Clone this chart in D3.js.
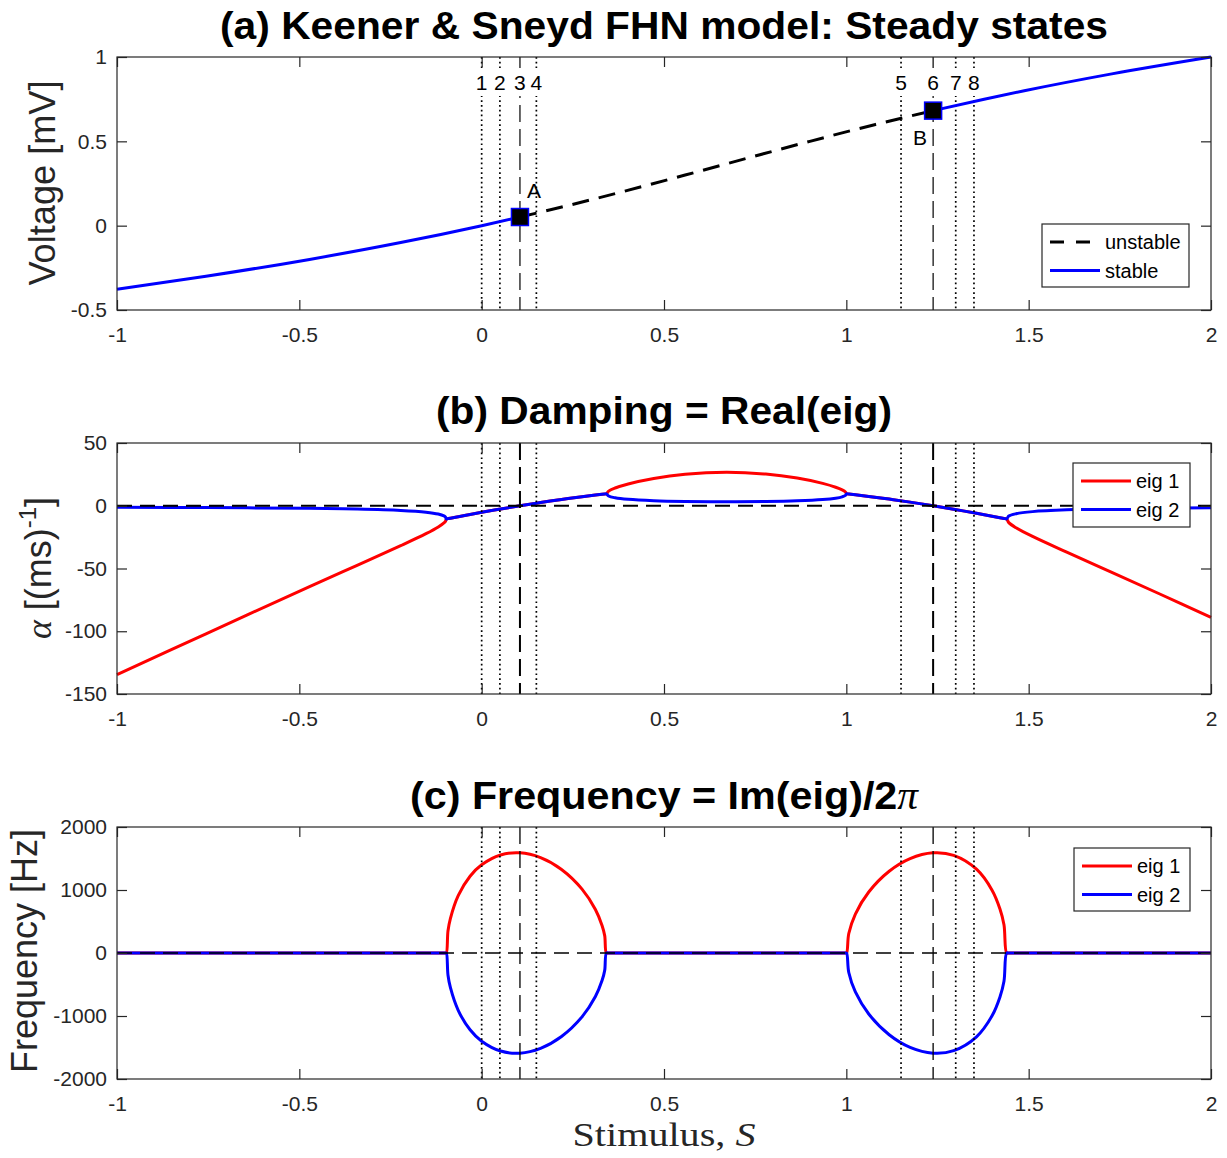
<!DOCTYPE html>
<html><head><meta charset="utf-8">
<script src="https://cdn.jsdelivr.net/npm/d3@7"></script>
<style>body{margin:0;background:#fff}svg{display:block}</style>
</head><body>
<svg id="chart" width="1227" height="1158"></svg>
<script>
// ---------- data ----------
const xTicks = [-1, -0.5, 0, 0.5, 1, 1.5, 2];
const xTickLabels = ["-1", "-0.5", "0", "0.5", "1", "1.5", "2"];
const voltTicks = [-0.5, 0, 0.5, 1];
const voltTickLabels = ["-0.5", "0", "0.5", "1"];
const dampTicks = [-150, -100, -50, 0, 50];
const dampTickLabels = ["-150", "-100", "-50", "0", "50"];
const freqTicks = [-2000, -1000, 0, 1000, 2000];
const freqTickLabels = ["-2000", "-1000", "0", "1000", "2000"];

// (a) steady states
const stableLowS = [-1, -0.756, -0.472, -0.222, 0, 0.105];
const stableLowV = [-0.3765, -0.3, -0.2, -0.1, 0, 0.0513];
const unstableS = [0.105, 0.200, 0.384, 0.558, 0.728, 0.900, 1.080, 1.238];
const unstableV = [0.0513, 0.1, 0.2, 0.3, 0.4, 0.5, 0.6, 0.682];
const stableHighS = [1.238, 1.378, 1.488, 1.728, 2.0];
const stableHighV = [0.682, 0.75, 0.8, 0.9, 1.0];
const hopfS = [0.105, 1.238];
const hopfV = [0.0513, 0.682];
const hopfNames = ["A", "B"];
const caseS = [0, 0.05, 0.105, 0.15, 1.15, 1.238, 1.30, 1.35];
const caseLabels = ["1", "2", "3", "4", "5", "6", "7", "8"];

// (b),(c) eigenvalues on a common stimulus grid
const eigS = [
  -1, -0.756, -0.472, -0.3431, -0.222, -0.1527, -0.1190, -0.1034, -0.0990, -0.0968,
  -0.0924, -0.0858, -0.0640, -0.0318, 0, 0.0518, 0.105, 0.1615, 0.2190, 0.2752, 0.3119, 0.3301, 0.3374, 0.3421,
  0.3482, 0.3661, 0.4018, 0.4719, 0.558, 0.6714, 0.7791, 0.8652, 0.9352, 0.9707, 0.9886, 0.9976, 1.0007,
  1.0067, 1.0248, 1.0615, 1.1175, 1.1749, 1.2378, 1.2944, 1.3569, 1.3996, 1.4213, 1.4323, 1.4396,
  1.4455, 1.4655, 1.5107, 1.6044, 1.728, 1.8596, 2
];
const eig1Re = [
  -134.61, -102.02, -64.44, -47.63, -31.81, -22.28, -16.92, -13.64, -12.23, -10.5,
  -10.26, -9.89, -8.69, -6.93, -5.25, -2.59, 0, 2.59, 5.04, 7.21, 8.51, 9.12, 9.35, 9.5,
  11.65, 14.14, 17.38, 21.76, 25.09, 26.65, 25.25, 22.04, 17.82, 14.77, 12.64, 10.99, 9.5,
  9.31, 8.72, 7.44, 5.29, 2.88, 0, -2.77, -5.99, -8.29, -9.49, -10.09, -10.5,
  -13.44, -17.57, -24.46, -37.01, -53.10, -70.32, -88.87
];
const eig2Re = [
  -1.25, -1.49, -2.06, -2.62, -3.69, -5.09, -6.59, -8.11, -9.03, -10.5,
  -10.26, -9.89, -8.69, -6.93, -5.25, -2.59, 0, 2.59, 5.04, 7.21, 8.51, 9.12, 9.35, 9.5,
  7.73, 6.33, 5.09, 3.99, 3.41, 3.18, 3.38, 3.94, 4.96, 6.05, 7.11, 8.21, 9.5,
  9.31, 8.72, 7.44, 5.29, 2.88, 0, -2.77, -5.99, -8.29, -9.49, -10.09, -10.5,
  -8.23, -6.36, -4.68, -3.24, -2.40, -1.93, -1.63
];
const eig1Freq = [
  0, 0, 0, 0, 0, 0, 0, 0, 0, 0,
  348.5, 547.3, 914.3, 1218.5, 1400.5, 1556.3, 1589.6, 1513.7, 1325.5, 1013.5, 690.4, 437.4, 275.9, 0,
  0, 0, 0, 0, 0, 0, 0, 0, 0, 0, 0, 0, 0,
  308.8, 618.2, 968.6, 1297.6, 1498.2, 1589.6, 1550.2, 1330.3, 997.9, 698.7, 449.0, 0,
  0, 0, 0, 0, 0, 0, 0
];
const eig2Freq = [
  0, 0, 0, 0, 0, 0, 0, 0, 0, 0,
  -348.5, -547.3, -914.3, -1218.5, -1400.5, -1556.3, -1589.6, -1513.7, -1325.5, -1013.5, -690.4, -437.4, -275.9, 0,
  0, 0, 0, 0, 0, 0, 0, 0, 0, 0, 0, 0, 0,
  -308.8, -618.2, -968.6, -1297.6, -1498.2, -1589.6, -1550.2, -1330.3, -997.9, -698.7, -449.0, 0,
  0, 0, 0, 0, 0, 0, 0
];
const steadyLegend = ["unstable", "stable"];
const eigLegend = ["eig 1", "eig 2"];

// ---------- drawing ----------
const svg = d3.select("#chart");
const AX = "#262626";
const FONT = "'Liberation Sans', Arial, Helvetica, sans-serif";
const TFONT = "'Liberation Sans Narrow', 'Liberation Sans', Arial, sans-serif";
const SERIF = "'Liberation Serif', 'DejaVu Serif', serif";
const BLUE = "#0000ff", RED = "#ff0000";
const x = d3.scaleLinear().domain([-1, 2]).range([117, 1211]);

function zip(a, b) { return a.map((v, i) => [v, b[i]]); }

function drawAxes(y, ticks, labels) {
  const [yb, yt] = y.range();
  const g = svg.append("g");
  const style = sel => {
    sel.select(".domain").remove();
    sel.selectAll(".tick line").attr("stroke", AX).attr("stroke-width", 1.2);
    sel.selectAll(".tick text").attr("fill", AX).style("font-family", FONT).style("font-size", "21px");
  };
  g.append("g").attr("transform", `translate(0,${yb})`)
    .call(d3.axisBottom(x).tickValues(xTicks).tickFormat((d, i) => xTickLabels[i]).tickSizeInner(-10).tickSizeOuter(0).tickPadding(17)).call(style);
  g.append("g").attr("transform", `translate(0,${yt})`)
    .call(d3.axisTop(x).tickValues(xTicks).tickFormat("").tickSizeInner(-10).tickSizeOuter(0)).call(style);
  g.append("g").attr("transform", `translate(${x.range()[0]},0)`)
    .call(d3.axisLeft(y).tickValues(ticks).tickFormat((d, i) => labels[i]).tickSizeInner(-10).tickSizeOuter(0).tickPadding(10)).call(style);
  g.append("g").attr("transform", `translate(${x.range()[1]},0)`)
    .call(d3.axisRight(y).tickValues(ticks).tickFormat("").tickSizeInner(-10).tickSizeOuter(0)).call(style);
  g.append("rect").attr("x", x.range()[0]).attr("y", yt)
    .attr("width", x.range()[1] - x.range()[0]).attr("height", yb - yt)
    .attr("fill", "none").attr("stroke", AX).attr("stroke-width", 1.2);
}

function caseLines(y, dashW) {
  const [yb, yt] = y.range();
  caseS.forEach(s => {
    const isHopf = hopfS.includes(s);
    svg.append("line").attr("x1", x(s)).attr("x2", x(s)).attr("y1", yt).attr("y2", yb)
      .attr("stroke", "#000")
      .attr("stroke-width", isHopf ? dashW : 1.7)
      .attr("stroke-dasharray", isHopf ? "17,7" : "1.7,3.1");
  });
}

function curve(y, xs, ys, color, width, dash, smooth) {
  const line = d3.line().x(d => x(d[0])).y(d => y(d[1]))
    .curve(smooth ? d3.curveCatmullRom.alpha(0.5) : d3.curveMonotoneX);
  const p = svg.append("path").datum(zip(xs, ys)).attr("d", line)
    .attr("fill", "none").attr("stroke", color).attr("stroke-width", width)
    .attr("stroke-linejoin", "round");
  if (dash) p.attr("stroke-dasharray", dash);
  return p;
}

function zeroLine(y, w) {
  svg.append("line").attr("x1", x(-1)).attr("x2", x(2)).attr("y1", y(0)).attr("y2", y(0))
    .attr("stroke", "#000").attr("stroke-width", w).attr("stroke-dasharray", "15,8");
}

function title(txt, yBase, len) {
  return svg.append("text").attr("x", 664).attr("y", yBase).attr("text-anchor", "middle")
    .style("font-family", TFONT).style("font-weight", "bold").style("font-size", "39px")
    .attr("fill", "#000").attr("textLength", len).attr("lengthAdjust", "spacingAndGlyphs").text(txt);
}

function legend(x0, y0, w, h, names, colors, dashes) {
  const g = svg.append("g");
  g.append("rect").attr("x", x0).attr("y", y0).attr("width", w).attr("height", h)
    .attr("fill", "#fff").attr("stroke", AX).attr("stroke-width", 1.2);
  names.forEach((n, i) => {
    const yy = y0 + 18 + i * 28.5;
    const l = g.append("line").attr("x1", x0 + 8).attr("x2", x0 + 58).attr("y1", yy).attr("y2", yy)
      .attr("stroke", colors[i]).attr("stroke-width", 3);
    if (dashes[i]) l.attr("stroke-dasharray", dashes[i]);
    g.append("text").attr("x", x0 + 63).attr("y", yy + 7).text(n)
      .style("font-family", FONT).style("font-size", "20px").attr("fill", "#000");
  });
}

// ---- Panel (a) ----
const ya = d3.scaleLinear().domain([-0.5, 1]).range([310, 57]);
title("(a) Keener & Sneyd FHN model: Steady states", 39, 888);
caseLines(ya, 1.2);
curve(ya, stableLowS, stableLowV, BLUE, 3);
curve(ya, unstableS, unstableV, "#000", 3, "17,10");
curve(ya, stableHighS, stableHighV, BLUE, 3);
hopfS.forEach((s, i) => {
  svg.append("rect").attr("x", x(s) - 8.5).attr("y", ya(hopfV[i]) - 8.5).attr("width", 17).attr("height", 17)
    .attr("fill", "#000").attr("stroke", BLUE).attr("stroke-width", 1.5);
});
const hopfLabelOffset = [[14, -19], [-13, 34]];
hopfS.forEach((s, i) => {
  svg.append("text").attr("x", x(s) + hopfLabelOffset[i][0]).attr("y", ya(hopfV[i]) + hopfLabelOffset[i][1])
    .attr("text-anchor", "middle").text(hopfNames[i])
    .style("font-family", FONT).style("font-size", "21px").attr("fill", "#000");
});
caseS.forEach((s, i) => {
  svg.append("rect").attr("x", x(s) - 7).attr("y", 68).attr("width", 14).attr("height", 28).attr("fill", "#fff");
  svg.append("text").attr("x", x(s)).attr("y", 90).attr("text-anchor", "middle").text(caseLabels[i])
    .style("font-family", FONT).style("font-size", "21px").attr("fill", "#000");
});
drawAxes(ya, voltTicks, voltTickLabels);
legend(1042, 224, 147, 63, steadyLegend, ["#000", BLUE], ["14,12", null]);
svg.append("text").attr("transform", "translate(55,183) rotate(-90)").attr("text-anchor", "middle")
  .style("font-family", FONT).style("font-size", "36px").attr("fill", AX)
  .attr("textLength", 205).attr("lengthAdjust", "spacingAndGlyphs").text("Voltage [mV]");

// ---- Panel (b) ----
const yb = d3.scaleLinear().domain([-150, 50]).range([694, 443]);
title("(b) Damping = Real(eig)", 424, 456);
curve(yb, eigS, eig1Re, RED, 3, null, true);
curve(yb, eigS, eig2Re, BLUE, 3, null, true);
caseLines(yb, 2);
zeroLine(yb, 1.8);
drawAxes(yb, dampTicks, dampTickLabels);
legend(1073, 463, 117, 64, eigLegend, [RED, BLUE], [null, null]);
const alab = svg.append("text").attr("transform", "translate(51,568) rotate(-90)").attr("text-anchor", "middle")
  .style("font-family", FONT).style("font-size", "36px").attr("fill", AX);
alab.append("tspan").text("α").style("font-family", SERIF).style("font-style", "italic");
alab.append("tspan").text(" [(ms)");
alab.append("tspan").text("-1").style("font-size", "24px").attr("dy", -15);
alab.append("tspan").text("]").attr("dy", 15);

// ---- Panel (c) ----
const yc = d3.scaleLinear().domain([-2000, 2000]).range([1079, 827]);
const tc = title("", 809, 508);
tc.append("tspan").text("(c) Frequency = Im(eig)/2");
tc.append("tspan").text("π").style("font-family", SERIF).style("font-style", "italic").style("font-weight", "normal");
curve(yc, eigS, eig1Freq, RED, 3, null, true);
curve(yc, eigS, eig2Freq, BLUE, 3, null, true);
caseLines(yc, 1.3);
zeroLine(yc, 1.6);
drawAxes(yc, freqTicks, freqTickLabels);
legend(1074, 848, 116, 63, eigLegend, [RED, BLUE], [null, null]);
svg.append("text").attr("transform", "translate(37,951) rotate(-90)").attr("text-anchor", "middle")
  .style("font-family", FONT).style("font-size", "36px").attr("fill", AX)
  .attr("textLength", 244).attr("lengthAdjust", "spacingAndGlyphs").text("Frequency [Hz]");

const xl = svg.append("text").attr("x", 664).attr("y", 1146).attr("text-anchor", "middle")
  .style("font-family", SERIF).style("font-size", "33px").attr("fill", AX)
  .attr("textLength", 183).attr("lengthAdjust", "spacingAndGlyphs");
xl.append("tspan").text("Stimulus, ");
xl.append("tspan").text("S").style("font-style", "italic");
</script>
</body></html>
